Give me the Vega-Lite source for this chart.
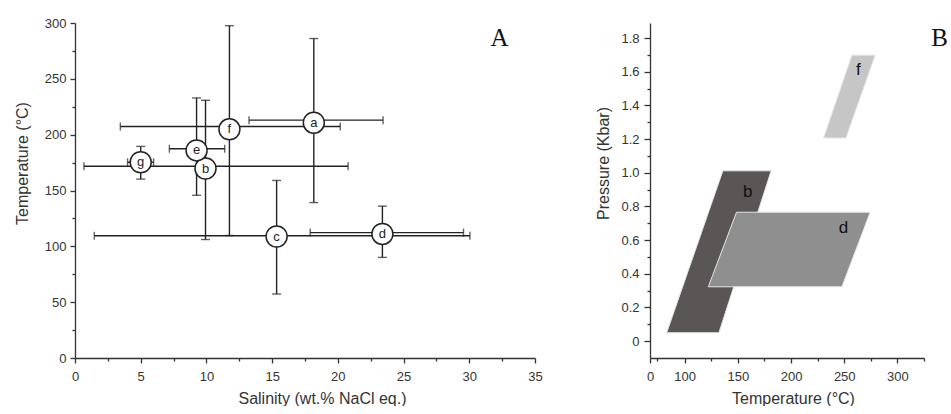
{
  "$schema": "https://vega.github.io/schema/vega-lite/v6.json",
  "padding": {"left": 14, "top": 17, "right": 0, "bottom": 0},
  "spacing": 115,
  "bounds": "flush",
  "config": {
    "view": {"stroke": null},
    "font": "Liberation Sans",
    "axis": {
      "domainColor": "#333333", "domainWidth": 1.3,
      "ticks": true, "tickColor": "#333333", "tickWidth": 1.3, "tickSize": 5, "tickOpacity": 1,
      "labelColor": "#333333", "labelFontSize": 13, "labelFont": "Liberation Sans",
      "titleColor": "#333333", "titleFontSize": 16, "titleFontWeight": "normal", "titleFont": "Liberation Sans",
      "grid": false, "labelPadding": 4, "labelOverlap": false, "labelFlush": false
    },
    "axisX": {"titlePadding": 7, "labelPadding": 7}
  },
  "datasets": {
    "incl": [
      {"id": "a", "x": 18.17, "y": 210.7, "xlo": 13.24, "xhi": 23.44, "hy": 213.0, "ylo": 139.2, "yhi": 286.1},
      {"id": "b", "x": 9.93, "y": 169.7, "xlo": 0.68, "xhi": 20.78, "hy": 171.7, "ylo": 106.1, "yhi": 230.8},
      {"id": "c", "x": 15.34, "y": 108.8, "xlo": 1.47, "xhi": 30.05, "hy": 109.5, "ylo": 57.3, "yhi": 159.0},
      {"id": "d", "x": 23.39, "y": 111.1, "xlo": 17.9, "xhi": 29.56, "hy": 112.3, "ylo": 90.1, "yhi": 136.0},
      {"id": "e", "x": 9.25, "y": 185.9, "xlo": 7.18, "xhi": 11.39, "hy": 187.4, "ylo": 145.7, "yhi": 232.9},
      {"id": "f", "x": 11.75, "y": 204.8, "xlo": 3.45, "xhi": 20.18, "hy": 207.3, "ylo": 109.7, "yhi": 297.6},
      {"id": "g", "x": 5.0, "y": 175.3, "xlo": 4.0, "xhi": 5.98, "hy": 175.3, "ylo": 160.2, "yhi": 189.5}
    ],
    "regions": [
      {"id": "b", "p": 0.05, "tlo": 83.1, "thi": 132.2},
      {"id": "b", "p": 1.012, "tlo": 135.9, "thi": 181.3},
      {"id": "d", "p": 0.323, "tlo": 122.2, "thi": 247.8},
      {"id": "d", "p": 0.766, "tlo": 148.75, "thi": 274.4},
      {"id": "f", "p": 1.207, "tlo": 230.6, "thi": 251.6},
      {"id": "f", "p": 1.699, "tlo": 257.2, "thi": 279.1}
    ],
    "regionLabels": [
      {"id": "b", "t": 159.4, "p": 0.889},
      {"id": "d", "t": 249.4, "p": 0.675},
      {"id": "f", "t": 263.4, "p": 1.613}
    ]
  },
  "hconcat": [
    {
      "width": 460,
      "height": 335,
      "data": {"name": "incl"},
      "layer": [
        {
          "mark": {"type": "rule", "color": "#222222", "strokeWidth": 1.4},
          "encoding": {
            "x": {
              "field": "xlo", "type": "quantitative",
              "scale": {"domain": [0, 35], "nice": false, "zero": false},
              "title": "Salinity (wt.% NaCl eq.)",
              "axis": {
                "values": [0, 2.5, 5, 7.5, 10, 12.5, 15, 17.5, 20, 22.5, 25, 27.5, 30, 32.5, 35],
                "tickCount": 100,
                "labelExpr": "datum.value % 5 === 0 ? format(datum.value, 'd') : ''",
                "tickDash": {"condition": [{"test": "datum.value % 5 === 0", "value": [5, 30]}, {"test": "datum.value % 5 !== 0", "value": [3, 30]}], "value": [3, 30]},
                "titleX": 247
              }
            },
            "x2": {"field": "xhi"},
            "y": {
              "field": "hy", "type": "quantitative",
              "scale": {"domain": [0, 300], "nice": false},
              "title": "Temperature (°C)",
              "axis": {
                "values": [0, 25, 50, 75, 100, 125, 150, 175, 200, 225, 250, 275, 300],
                "tickCount": 100,
                "labelExpr": "datum.value % 50 === 0 ? format(datum.value, 'd') : ''",
                "tickDash": {"condition": [{"test": "datum.value % 50 === 0", "value": [5, 30]}, {"test": "datum.value % 50 !== 0", "value": [3, 30]}], "value": [3, 30]},
                "titlePadding": 14,
                "titleY": 140
              }
            }
          }
        },
        {
          "mark": {"type": "rule", "color": "#222222", "strokeWidth": 1.4},
          "encoding": {
            "x": {"field": "x", "type": "quantitative"},
            "y": {"field": "ylo", "type": "quantitative"},
            "y2": {"field": "yhi"}
          }
        },
        {
          "mark": {"type": "tick", "orient": "vertical", "color": "#222222", "size": 8, "thickness": 1.4},
          "encoding": {
            "x": {"field": "xlo", "type": "quantitative"},
            "y": {"field": "hy", "type": "quantitative"}
          }
        },
        {
          "mark": {"type": "tick", "orient": "vertical", "color": "#222222", "size": 8, "thickness": 1.4},
          "encoding": {
            "x": {"field": "xhi", "type": "quantitative"},
            "y": {"field": "hy", "type": "quantitative"}
          }
        },
        {
          "mark": {"type": "tick", "orient": "horizontal", "color": "#222222", "size": 9, "thickness": 1.4},
          "encoding": {
            "x": {"field": "x", "type": "quantitative"},
            "y": {"field": "ylo", "type": "quantitative"}
          }
        },
        {
          "mark": {"type": "tick", "orient": "horizontal", "color": "#222222", "size": 9, "thickness": 1.4},
          "encoding": {
            "x": {"field": "x", "type": "quantitative"},
            "y": {"field": "yhi", "type": "quantitative"}
          }
        },
        {
          "mark": {"type": "point", "shape": "circle", "size": 441, "filled": true, "fill": "white", "stroke": "#222222", "strokeWidth": 1.5, "opacity": 1},
          "encoding": {
            "x": {"field": "x", "type": "quantitative"},
            "y": {"field": "y", "type": "quantitative"}
          }
        },
        {
          "mark": {"type": "text", "fontSize": 13, "color": "#222222", "baseline": "middle", "align": "center"},
          "encoding": {
            "x": {"field": "x", "type": "quantitative"},
            "y": {"field": "y", "type": "quantitative"},
            "text": {"field": "id"}
          }
        },
        {
          "data": {"values": [{"t": "A", "x": 32.3, "y": 287}]},
          "mark": {"type": "text", "font": "Liberation Serif", "fontSize": 25, "color": "#111111", "baseline": "middle", "align": "center"},
          "encoding": {
            "x": {"field": "x", "type": "quantitative"},
            "y": {"field": "y", "type": "quantitative"},
            "text": {"field": "t"}
          }
        }
      ]
    },
    {
      "width": 274,
      "height": 335,
      "layer": [
        {
          "data": {"name": "regions"},
          "mark": {"type": "area", "orient": "horizontal", "stroke": "#e6e6e6", "strokeWidth": 1, "opacity": 1},
          "encoding": {
            "y": {
              "field": "p", "type": "quantitative",
              "scale": {"domain": [-0.1, 1.89], "nice": false, "zero": false},
              "title": "Pressure (Kbar)",
              "axis": {
                "values": [0, 0.1, 0.2, 0.3, 0.4, 0.5, 0.6, 0.7, 0.8, 0.9, 1.0, 1.1, 1.2, 1.3, 1.4, 1.5, 1.6, 1.7, 1.8],
                "tickCount": 100,
                "tickSize": 6,
                "labelPadding": 5,
                "labelExpr": "datum.value === 0 ? '0' : (round(datum.value * 10) % 2 === 0 ? format(datum.value, '.1f') : '')",
                "tickDash": {"condition": [{"test": "round(datum.value * 10) % 2 === 0", "value": [6, 30]}, {"test": "round(datum.value * 10) % 2 !== 0", "value": [3, 30]}], "value": [3, 30]},
                "titlePadding": 9,
                "titleY": 140
              }
            },
            "x": {
              "field": "tlo", "type": "quantitative", "stack": null,
              "scale": {"domain": [67.4, 325], "nice": false, "zero": false},
              "title": "Temperature (°C)",
              "axis": {
                "values": [67.4, 73.7, 100, 125, 150, 175, 200, 225, 250, 275, 300, 325],
                "tickCount": 100,
                "labelExpr": "datum.value < 70 ? '0' : (datum.value % 50 === 0 ? format(datum.value, 'd') : '')",
                "tickDash": {"condition": [{"test": "datum.value < 70 || datum.value % 50 === 0", "value": [5, 30]}, {"test": "datum.value > 70 && datum.value % 50 !== 0", "value": [3, 30]}], "value": [3, 30]},
                "titleX": 143
              }
            },
            "x2": {"field": "thi"},
            "color": {
              "field": "id", "type": "nominal",
              "scale": {"domain": ["b", "d", "f"], "range": ["#5a5656", "#8f8f8f", "#c6c6c6"]},
              "legend": null
            }
          }
        },
        {
          "data": {"name": "regionLabels"},
          "mark": {"type": "text", "fontSize": 17, "color": "#111111", "baseline": "middle", "align": "center"},
          "encoding": {
            "x": {"field": "t", "type": "quantitative"},
            "y": {"field": "p", "type": "quantitative"},
            "text": {"field": "id"}
          }
        },
        {
          "data": {"values": [{"t": "B", "x": 339.7, "y": 1.8}]},
          "mark": {"type": "text", "font": "Liberation Serif", "fontSize": 25, "color": "#111111", "baseline": "middle", "align": "center"},
          "encoding": {
            "x": {"field": "x", "type": "quantitative"},
            "y": {"field": "y", "type": "quantitative"},
            "text": {"field": "t"}
          }
        }
      ]
    }
  ]
}
